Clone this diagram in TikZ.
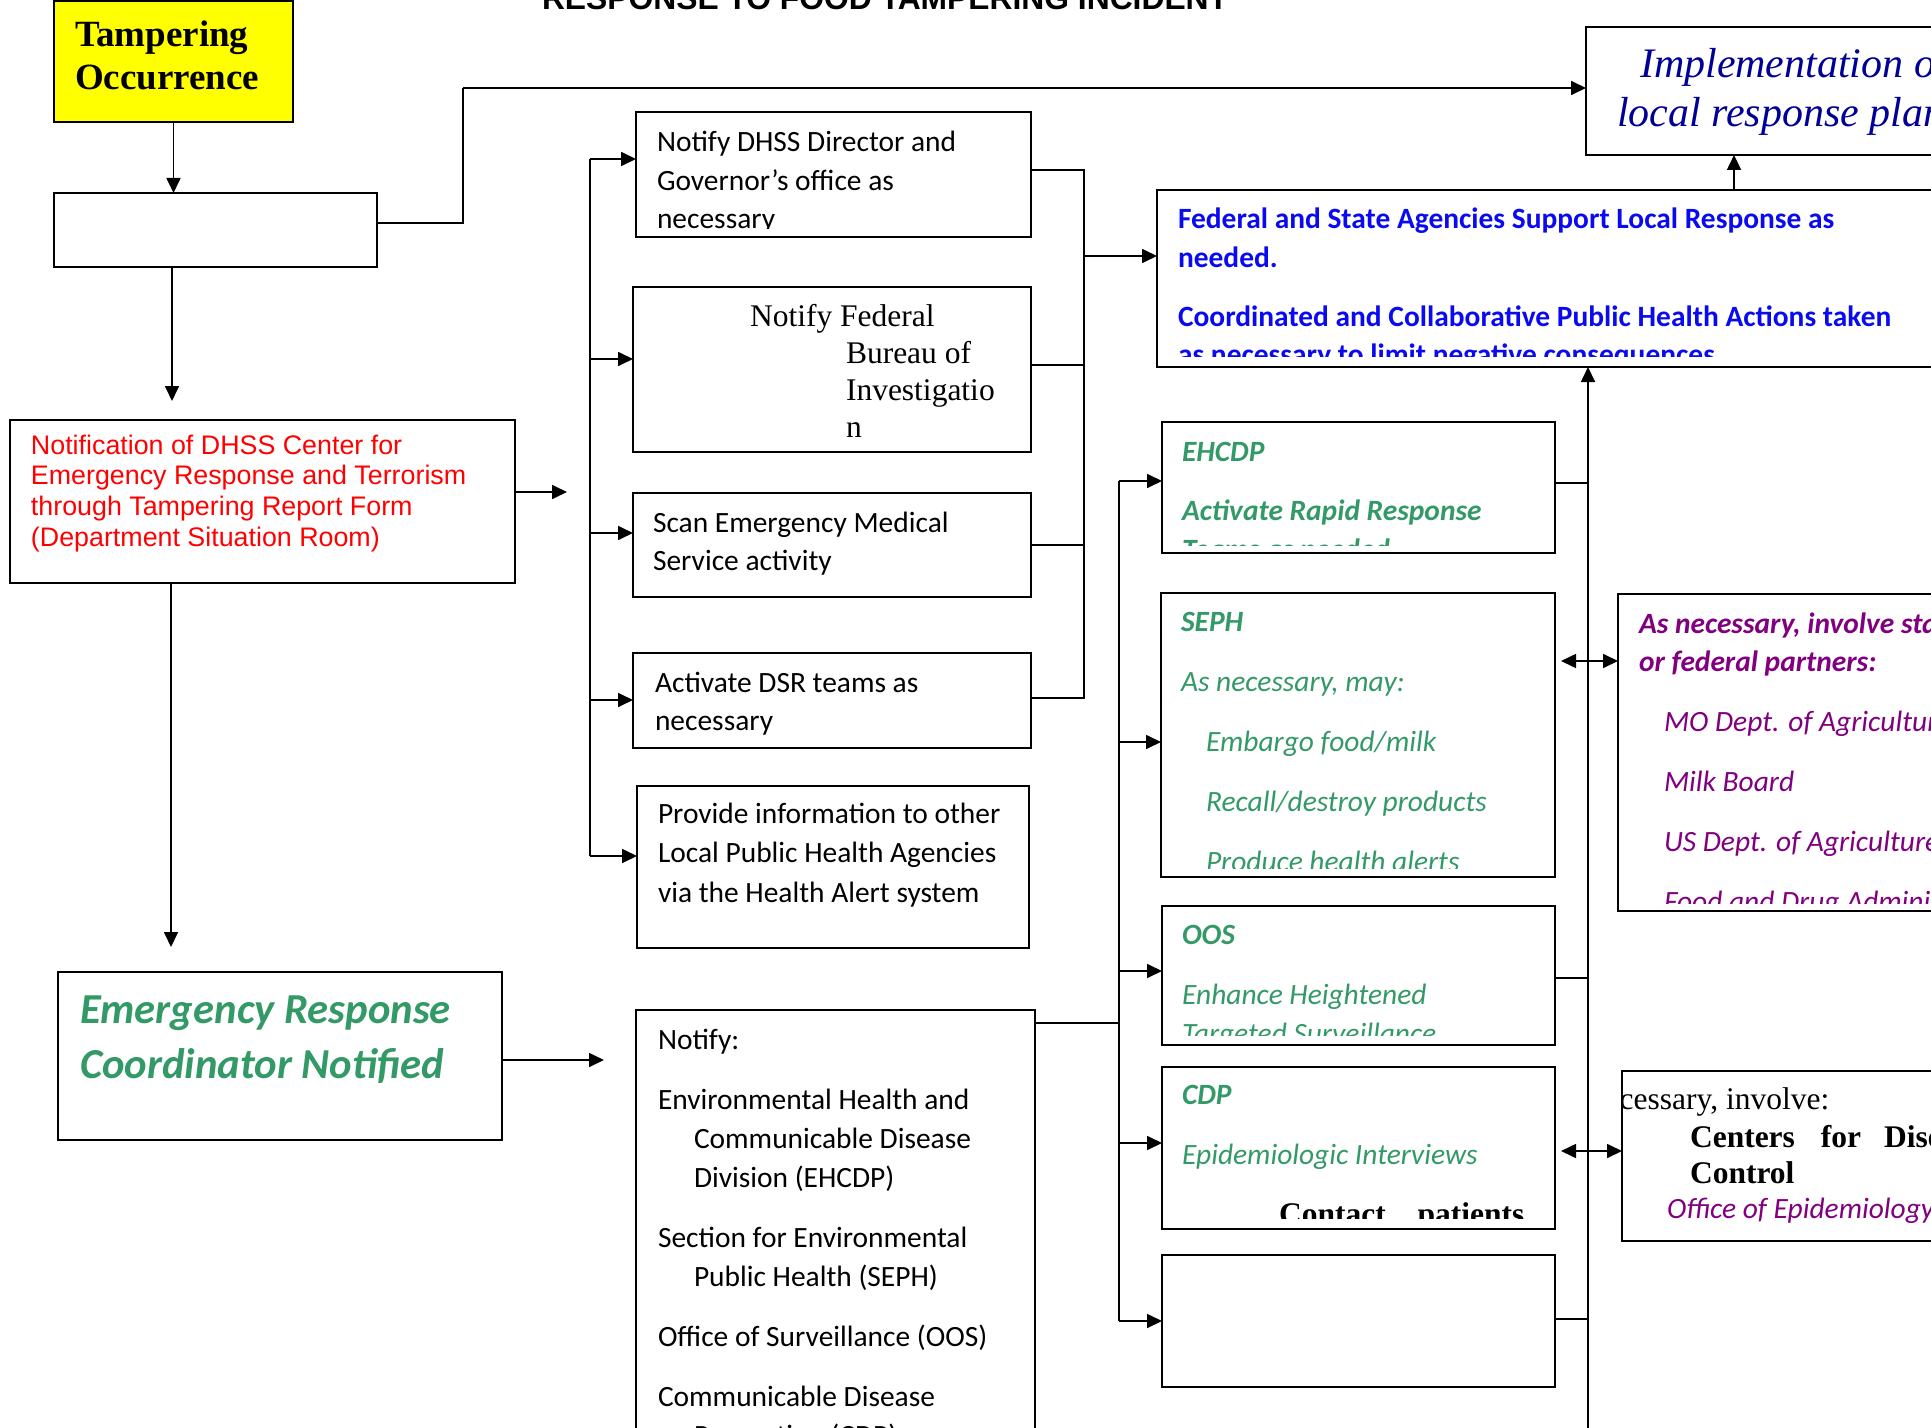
\documentclass[tikz,border=0pt]{standalone}
\usepackage{fontspec}
\usetikzlibrary{arrows.meta,fit,calc}
\newfontfamily\calfont{Carlito}
\newfontfamily\tnrfont{Liberation Serif}
\newfontfamily\arifont{Liberation Sans}
\definecolor{sgreen}{RGB}{51,153,102}
\definecolor{dpurple}{RGB}{128,0,128}
\definecolor{fblue}{RGB}{10,10,240}
\definecolor{nblue}{RGB}{0,0,150}
\definecolor{nred}{RGB}{255,0,0}
\definecolor{tyellow}{RGB}{255,255,0}
\newcommand\mylines[1]{\begin{tabular}[t]{@{}l@{}}#1\end{tabular}}
\tikzset{
  boxfit/.style={draw, line width=1pt, inner sep=0pt, outer sep=0pt, fit={#1}},
  conn/.style={line width=0.85pt},
  arr/.style={conn, -{Triangle[length=7.5pt,width=7pt]}},
  darr/.style={conn, {Triangle[length=7.5pt,width=7pt]}-{Triangle[length=7.5pt,width=7pt]}},
  txt/.style={anchor=base west, inner sep=0pt, outer sep=0pt},
  cal/.style={font={\calfont\fontsize{14.72}{19.25}\selectfont}},
  calr/.style={font={\calfont\fontsize{14.72}{19.5}\selectfont}},
}
\begin{document}
\begin{tikzpicture}[x=0.5pt,y=-0.5pt]
\useasboundingbox (0,0) rectangle (1931,1428);
\clip (0,0) rectangle (1931,1428);

% title
\node[txt, font={\arifont\bfseries\fontsize{15.9}{19}\selectfont}] (title) at (542,10) {RESPONSE TO FOOD TAMPERING INCIDENT};

% left column
\node[boxfit={(54,1) (293,122)}, fill=tyellow] (tamp) {};
\node[txt, font={\tnrfont\bfseries\fontsize{18.5}{21.5}\selectfont}] (tampT) at (75,47) {\mylines{Tampering\\Occurrence}};

\node[boxfit={(54,193) (377,267)}] (blank) {};

\node[boxfit={(10,420) (515,583)}] (notif) {};
\node[txt, text=nred, font={\arifont\fontsize{13.41}{15.35}\selectfont}] (notifT) at (31,454) {\mylines{Notification of DHSS Center for\\Emergency Response and Terrorism\\through Tampering Report Form\\(Department Situation Room)}};

\node[boxfit={(58,972) (502,1140)}] (erc) {};
\node[txt, text=sgreen, font={\calfont\bfseries\itshape\fontsize{21.35}{27.5}\selectfont}] (ercT) at (80,1023) {\mylines{Emergency Response\\Coordinator Notified}};

% middle column
\node[boxfit={(636,112) (1031,237)}] (dhss) {};
\begin{scope}
\clip (636,112) rectangle (1031,229);
\node[txt, cal] (dhssT) at (657,152) {\mylines{Notify DHSS Director and\\Governor’s office as\\necessary}};
\end{scope}

\node[boxfit={(633,287) (1031,452)}] (fbi) {};
\node[txt, font={\tnrfont\fontsize{15.75}{18.5}\selectfont}] (fbiT) at (750,327) {\mylines{Notify Federal\\\hspace*{48pt}Bureau of\\\hspace*{48pt}Investigatio\\\hspace*{48pt}n}};

\node[boxfit={(633,493) (1031,597)}] (scan) {};
\node[txt, cal] (scanT) at (653,532) {\mylines{Scan Emergency Medical\\Service activity}};

\node[boxfit={(633,653) (1031,748)}] (dsr) {};
\node[txt, cal] (dsrT) at (655,692) {\mylines{Activate DSR teams as\\necessary}};

\node[boxfit={(637,786) (1029,948)}] (prov) {};
\node[txt, font={\calfont\fontsize{14.72}{19.75}\selectfont}] (provT) at (658,823) {\mylines{Provide information to other\\Local Public Health Agencies\\via the Health Alert system}};

\node[boxfit={(636,1010) (1035,1500)}] (notify) {};
\node[txt, calr] (notifyT) at (658,1049) {\mylines{Notify:\\[10.5pt]Environmental Health and\\\hspace*{18pt}Communicable Disease\\\hspace*{18pt}Division (EHCDP)\\[10.5pt]Section for Environmental\\\hspace*{18pt}Public Health (SEPH)\\[10.5pt]Office of Surveillance (OOS)\\[10.5pt]Communicable Disease\\\hspace*{18pt}Prevention (CDP)}};

% top right
\node[boxfit={(1586,27) (1995,155)}] (impl) {};
\node[txt, text=nblue, font={\tnrfont\itshape\fontsize{21}{24.5}\selectfont}] (implT) at (1617,78) {\mylines{\hspace*{11.5pt}Implementation of\\local response plan}};

\node[boxfit={(1157,190) (1995,367)}] (fed) {};
\begin{scope}
\clip (1157,190) rectangle (1995,357);
\node[txt, text=fblue, font={\calfont\bfseries\fontsize{14.72}{19.25}\selectfont}] (fedT) at (1178,229) {\mylines{Federal and State Agencies Support Local Response as\\needed.\\[10.25pt]Coordinated and Collaborative Public Health Actions taken\\as necessary to limit negative consequences.}};
\end{scope}

% right column
\node[boxfit={(1162,422) (1555,553)}] (ehcdp) {};
\begin{scope}
\clip (1162,422) rectangle (1555,545);
\node[txt, text=sgreen, font={\calfont\bfseries\itshape\fontsize{14.72}{19.5}\selectfont}] (ehcdpT) at (1182,461) {\mylines{EHCDP\\[10pt]Activate Rapid Response\\Teams as needed}};
\end{scope}

\node[boxfit={(1161,593) (1555,877)}] (seph) {};
\begin{scope}
\clip (1161,593) rectangle (1555,868);
\node[txt, text=sgreen, font={\calfont\itshape\fontsize{14.72}{19.5}\selectfont}] (sephT) at (1181,631) {\mylines{\textbf{SEPH}\\[10.5pt]As necessary, may:\\[10.5pt]\hspace*{12.5pt}Embargo food/milk\\[10.5pt]\hspace*{12.5pt}Recall/destroy products\\[10.5pt]\hspace*{12.5pt}Produce health alerts}};
\end{scope}

\node[boxfit={(1162,906) (1555,1045)}] (oos) {};
\begin{scope}
\clip (1162,906) rectangle (1555,1035);
\node[txt, text=sgreen, font={\calfont\itshape\fontsize{14.72}{19.5}\selectfont}] (oosT) at (1182,944) {\mylines{\textbf{OOS}\\[10.5pt]Enhance Heightened\\Targeted Surveillance}};
\end{scope}

\node[boxfit={(1162,1067) (1555,1229)}] (cdp) {};
\begin{scope}
\clip (1162,1067) rectangle (1555,1218);
\node[txt, text=sgreen, font={\calfont\itshape\fontsize{14.72}{19.5}\selectfont}] (cdpT) at (1182,1104) {\mylines{\textbf{CDP}\\[10.5pt]Epidemiologic Interviews}};
\node[txt, font={\tnrfont\bfseries\fontsize{15.75}{18.5}\selectfont}] (cdpT2) at (1279,1224) {Contact\hspace{16pt}patients};
\end{scope}

\node[boxfit={(1162,1255) (1555,1387)}] (empty) {};

\node[boxfit={(1618,594) (1995,911)}] (partners) {};
\begin{scope}
\clip (1618,594) rectangle (1995,903);
\node[txt, text=dpurple, font={\calfont\itshape\fontsize{14.72}{19}\selectfont}] (partnersT) at (1639,633) {\mylines{\textbf{As necessary, involve state}\\\textbf{or federal partners:}\\[11pt]\hspace*{12.5pt}MO Dept. of Agriculture\\[11pt]\hspace*{12.5pt}Milk Board\\[11pt]\hspace*{12.5pt}US Dept. of Agriculture\\[11pt]\hspace*{12.5pt}Food and Drug Administration}};
\end{scope}

\node[boxfit={(1622,1071) (1995,1241)}] (cdc) {};
\begin{scope}
\clip (1623,1071) rectangle (1995,1241);
\node[txt, font={\tnrfont\fontsize{15.75}{18}\selectfont}] (cdcT1) at (1547,1109) {As necessary, involve:};
\node[txt, font={\tnrfont\bfseries\fontsize{15.75}{18}\selectfont}] (cdcT2) at (1690,1147) {\mylines{Centers\hspace{13pt}for\hspace{11.5pt}Disease\\Control}};
\node[txt, text=dpurple, font={\calfont\itshape\fontsize{14.72}{19}\selectfont}] (cdcT3) at (1667,1218) {Office of Epidemiology};
\end{scope}

% connectors
\draw[arr] (tamp.south) -- (tamp.south |- blank.north);
\coordinate (j1) at (463,88);
\draw[conn] (blank.east |- 0,223) -| (j1);
\draw[arr] (j1) -- (impl.west |- j1);
\coordinate (n1) at (172,401);
\draw[arr] (blank.south -| n1) -- (n1);
\coordinate (n2) at (567,492);
\draw[arr] (notif.east |- n2) -- (n2);
\coordinate (n3) at (171,947);
\draw[arr] (notif.south -| n3) -- (n3);
\coordinate (n4) at (604,1060);
\draw[arr] (erc.east |- n4) -- (n4);

\coordinate (bl1) at (590,159);
\coordinate (bl2) at (590,856);
\draw[conn] (bl1) -- (bl2);
\draw[arr] (bl1) -- (dhss.west |- bl1);
\draw[arr] (bl1 |- 0,359) -- (fbi.west |- 0,359);
\draw[arr] (bl1 |- 0,533) -- (scan.west |- 0,533);
\draw[arr] (bl1 |- 0,700) -- (dsr.west |- 0,700);
\draw[arr] (bl2) -- (prov.west |- bl2);

\coordinate (br1) at (1084,170);
\coordinate (br2) at (1084,698);
\draw[conn] (dhss.east |- br1) -- (br1) -- (br2) -- (dsr.east |- br2);
\draw[conn] (fbi.east |- 0,365) -- (br1 |- 0,365);
\draw[conn] (scan.east) -- (br1 |- scan.east);
\draw[arr] (br1 |- 0,256) -- (fed.west |- 0,256);

\coordinate (fx) at (1734,0);
\draw[arr] (fed.north -| fx) -- (impl.south -| fx);

\coordinate (bm1) at (1119,481);
\coordinate (bm2) at (1119,1321);
\draw[conn] (bm1) -- (bm2);
\draw[arr] (bm1) -- (ehcdp.west |- bm1);
\draw[arr] (bm1 |- 0,742) -- (seph.west |- 0,742);
\draw[arr] (bm1 |- 0,971) -- (oos.west |- 0,971);
\draw[arr] (bm1 |- 0,1143) -- (cdp.west |- 0,1143);
\draw[arr] (bm2) -- (empty.west |- bm2);
\draw[conn] (notify.east |- 0,1023) -- (bm1 |- 0,1023);

\coordinate (bb) at (1588,1440);
\draw[arr] (bb) -- (bb |- fed.south);
\draw[conn] (ehcdp.east |- 0,483) -- (bb |- 0,483);
\draw[conn] (oos.east |- 0,978) -- (bb |- 0,978);
\draw[conn] (empty.east |- 0,1319) -- (bb |- 0,1319);
\draw[darr, shorten <=3pt] (seph.east |- 0,661) -- (partners.west |- 0,661);
\draw[darr, shorten <=3pt] (cdp.east |- 0,1151) -- (cdc.west |- 0,1151);
\end{tikzpicture}
\end{document}
